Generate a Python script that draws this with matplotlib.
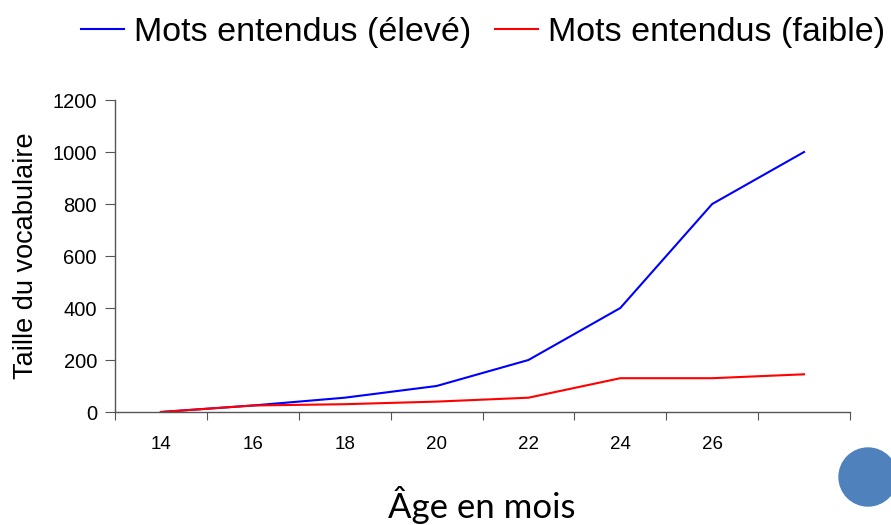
import matplotlib
matplotlib.use('Agg')
import matplotlib.pyplot as plt
import matplotlib.patches as mpatches
from matplotlib.transforms import IdentityTransform
import numpy as np

plt.rcParams['font.family'] = ['Liberation Sans', 'DejaVu Sans']

# data
ages = ['14', '16', '18', '20', '22', '24', '26', '']
eleve = [0, 25, 55, 100, 200, 400, 800, 1000]
faible = [0, 25, 30, 40, 55, 130, 130, 145]
yticks = [0, 200, 400, 600, 800, 1000, 1200]

fig = plt.figure(figsize=(8.91, 5.25), dpi=100)
ax = fig.add_axes([115 / 891, 113 / 525, 735 / 891, 312 / 525])

x = np.arange(len(ages))
l1, = ax.plot(x, eleve, color='#0000ff', lw=1.5, label='Mots entendus (élevé)')
l2, = ax.plot(x, faible, color='#ff0000', lw=1.5, label='Mots entendus (faible)')

ax.set_xlim(-0.5, len(ages) - 0.5)
ax.set_ylim(0, 1200)
ax.set_yticks(yticks)

# category axis: tick marks between categories, labels centred
ax.set_xticks(np.arange(len(ages) + 1) - 0.5)
ax.set_xticklabels([])
ax.set_xticks(x, minor=True)
ax.set_xticklabels(ages, minor=True)
ax.tick_params(axis='x', which='major', direction='out', length=6, color='#555555')
ax.tick_params(axis='x', which='minor', length=0, pad=17, labelsize=13.5)
ax.tick_params(axis='y', direction='out', length=7, color='#555555', labelsize=14.5, pad=6)

for s in ['top', 'right']:
    ax.spines[s].set_visible(False)
for s in ['left', 'bottom']:
    ax.spines[s].set_color('#555555')
    ax.spines[s].set_linewidth(1)

ax.set_ylabel('Taille du vocabulaire', fontsize=19.5, labelpad=10)
fig.text(482 / 891, 1 - 505 / 525, 'Âge en mois', fontsize=25,
         family=['Lato', 'DejaVu Sans'], ha='center', va='center')

fig.legend(handles=[l1, l2], loc='center', bbox_to_anchor=(483 / 891, 1 - 32 / 525),
           ncol=2, frameon=False, handlelength=1.25, handletextpad=0.3,
           columnspacing=0.7, prop={'family': ['Liberation Sans', 'DejaVu Sans'], 'size': 24.5})

circle = mpatches.Circle((868, 48), 29, transform=IdentityTransform(),
                         color='#4f81bd', zorder=5)
fig.patches.append(circle)

fig.savefig('out.png', dpi=100)
